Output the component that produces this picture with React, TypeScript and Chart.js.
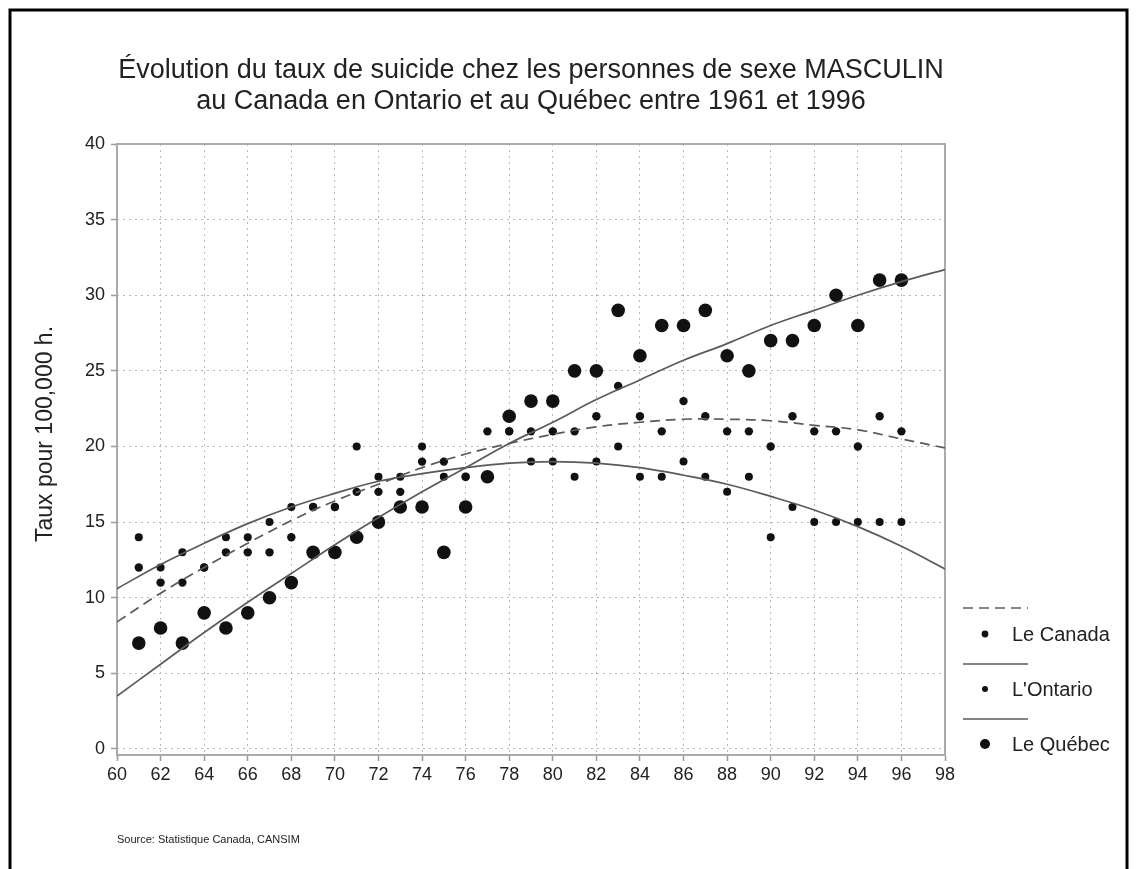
import React, { useEffect, useRef } from "react";
import { Chart, registerables } from "chart.js";

Chart.register(...registerables);

// ---- Data ----
const years = [61, 62, 63, 64, 65, 66, 67, 68, 69, 70, 71, 72, 73, 74, 75, 76, 77, 78, 79, 80, 81, 82, 83, 84, 85, 86, 87, 88, 89, 90, 91, 92, 93, 94, 95, 96];
const canada = [12, 11, 11, 12, 13, 13, 13, 14, 16, 16, 17, 17, 17, 19, 19, 18, 21, 21, 21, 21, 21, 22, 24, 22, 21, 23, 22, 21, 21, 20, 22, 21, 21, 20, 22, 21];
const ontario = [14, 12, 13, 12, 14, 14, 15, 16, 16, 16, 20, 18, 18, 20, 18, 18, 18, 21, 19, 19, 18, 19, 20, 18, 18, 19, 18, 17, 18, 14, 16, 15, 15, 15, 15, 15];
const quebec = [7, 8, 7, 9, 8, 9, 10, 11, 13, 13, 14, 15, 16, 16, 13, 16, 18, 22, 23, 23, 25, 25, 29, 26, 28, 28, 29, 26, 25, 27, 27, 28, 30, 28, 31, 31];

// Trend curves, every two years
const trendYears = [60, 62, 64, 66, 68, 70, 72, 74, 76, 78, 80, 82, 84, 86, 88, 90, 92, 94, 96, 98];
const canadaTrend = [8.4, 10.3, 12.0, 13.6, 15.1, 16.4, 17.5, 18.6, 19.5, 20.2, 20.8, 21.3, 21.6, 21.8, 21.8, 21.7, 21.4, 21.1, 20.5, 19.9];
const ontarioTrend = [10.6, 12.2, 13.6, 14.9, 16.0, 16.9, 17.7, 18.2, 18.6, 18.9, 19.0, 18.9, 18.6, 18.1, 17.5, 16.7, 15.8, 14.7, 13.4, 11.9];
const quebecTrend = [3.5, 5.6, 7.7, 9.7, 11.6, 13.5, 15.3, 17.0, 18.6, 20.2, 21.6, 23.1, 24.4, 25.7, 26.8, 28.0, 29.0, 30.0, 30.9, 31.7];

const xTickValues = [60, 62, 64, 66, 68, 70, 72, 74, 76, 78, 80, 82, 84, 86, 88, 90, 92, 94, 96, 98];
const yTickValues = [0, 5, 10, 15, 20, 25, 30, 35, 40];

const titleLines = [
  "Évolution du taux de suicide chez les personnes de sexe MASCULIN",
  "au Canada en Ontario et au Québec entre 1961 et 1996",
];
const yAxisTitle = "Taux pour 100,000 h.";
const sourceText = "Source: Statistique Canada, CANSIM";
const legendLabels = ["Le Canada", "L'Ontario", "Le Québec"];

const FONT = "'Liberation Sans', Arial, Helvetica, sans-serif";
const TEXT = "#222";
const LINE = "#5a5a5a";
const DOT = "#111";

const toXY = (xs: number[], ys: number[]) => xs.map((x, i) => ({ x, y: ys[i] }));

const decorPlugin = {
  id: "decor",
  beforeDraw(chart: any) {
    const ctx = chart.ctx as CanvasRenderingContext2D;
    ctx.save();
    ctx.fillStyle = "#fff";
    ctx.fillRect(0, 0, chart.width, chart.height);
    // outer frame (open at the bottom)
    ctx.strokeStyle = "#000";
    ctx.lineWidth = 3;
    ctx.beginPath();
    ctx.moveTo(10, chart.height + 5);
    ctx.lineTo(10, 10);
    ctx.lineTo(1127, 10);
    ctx.lineTo(1127, chart.height + 5);
    ctx.stroke();
    ctx.restore();
  },
  beforeDatasetsDraw(chart: any) {
    const ctx = chart.ctx as CanvasRenderingContext2D;
    const a = chart.chartArea;
    ctx.save();
    ctx.strokeStyle = "#aaa";
    ctx.lineWidth = 2;
    ctx.strokeRect(a.left, a.top, a.right - a.left, a.bottom - a.top);
    ctx.restore();
  },
  afterDraw(chart: any) {
    const ctx = chart.ctx as CanvasRenderingContext2D;
    const a = chart.chartArea;
    ctx.save();
    ctx.fillStyle = TEXT;
    // title
    ctx.font = `27px ${FONT}`;
    ctx.textAlign = "center";
    ctx.textBaseline = "middle";
    const cx = (a.left + a.right) / 2;
    ctx.fillText(titleLines[0], cx, 71);
    ctx.fillText(titleLines[1], cx, 102);
    // y axis title
    ctx.save();
    ctx.translate(46, 434);
    ctx.rotate(-Math.PI / 2);
    ctx.font = `23px ${FONT}`;
    ctx.fillText(yAxisTitle, 0, 0);
    ctx.restore();
    // source
    ctx.textAlign = "left";
    ctx.font = `11px ${FONT}`;
    ctx.fillText(sourceText, a.left, 840);
    // legend
    const lx0 = 963, lx1 = 1028, dotX = 985, textX = 1012;
    const rows = [
      { lineY: 608, y: 634, dash: [10, 6], r: 3.4 },
      { lineY: 664, y: 689, dash: [], r: 3 },
      { lineY: 719, y: 744, dash: [], r: 5 },
    ];
    rows.forEach((row, i) => {
      ctx.strokeStyle = LINE;
      ctx.lineWidth = 1.6;
      ctx.setLineDash(row.dash);
      ctx.beginPath();
      ctx.moveTo(lx0, row.lineY);
      ctx.lineTo(lx1, row.lineY);
      ctx.stroke();
      ctx.setLineDash([]);
      ctx.fillStyle = DOT;
      ctx.beginPath();
      ctx.arc(dotX, row.y, row.r, 0, Math.PI * 2);
      ctx.fill();
      ctx.fillStyle = TEXT;
      ctx.font = `20px ${FONT}`;
      ctx.textBaseline = "middle";
      ctx.fillText(legendLabels[i], textX, row.y + 1);
    });
    ctx.restore();
  },
};

export default function App() {
  const ref = useRef<HTMLCanvasElement | null>(null);

  useEffect(() => {
    if (!ref.current) return;
    const chart = new Chart(ref.current, {
      type: "scatter",
      data: {
        datasets: [
          {
            label: "Le Canada (tendance)",
            type: "line",
            data: toXY(trendYears, canadaTrend),
            borderColor: LINE,
            borderWidth: 1.7,
            borderDash: [10, 6],
            pointRadius: 0,
            tension: 0.4,
            fill: false,
          },
          {
            label: "L'Ontario (tendance)",
            type: "line",
            data: toXY(trendYears, ontarioTrend),
            borderColor: LINE,
            borderWidth: 1.7,
            pointRadius: 0,
            tension: 0.4,
            fill: false,
          },
          {
            label: "Le Québec (tendance)",
            type: "line",
            data: toXY(trendYears, quebecTrend),
            borderColor: LINE,
            borderWidth: 1.7,
            pointRadius: 0,
            tension: 0.4,
            fill: false,
          },
          {
            label: "Le Canada",
            data: toXY(years, canada),
            pointRadius: 4.2,
            pointBackgroundColor: DOT,
            pointBorderWidth: 0,
          },
          {
            label: "L'Ontario",
            data: toXY(years, ontario),
            pointRadius: 4,
            pointBackgroundColor: DOT,
            pointBorderWidth: 0,
          },
          {
            label: "Le Québec",
            data: toXY(years, quebec),
            pointRadius: 6.8,
            pointBackgroundColor: DOT,
            pointBorderWidth: 0,
          },
        ],
      },
      options: {
        animation: false,
        responsive: false,
        maintainAspectRatio: false,
        events: [],
        layout: { padding: { left: 0, top: 144, right: 191, bottom: 74 } },
        plugins: {
          legend: { display: false },
          title: { display: false },
          tooltip: { enabled: false },
        },
        scales: {
          x: {
            type: "linear",
            min: 60,
            max: 98,
            afterBuildTicks: (s: any) => {
              s.ticks = xTickValues.map((v) => ({ value: v }));
            },
            afterFit: (s: any) => {
              s.height = 40;
            },
            ticks: {
              color: TEXT,
              font: { family: FONT, size: 18 },
              padding: 3,
              maxRotation: 0,
              autoSkip: false,
            },
            grid: {
              color: "#b8b8b8",
              lineWidth: 1,
              tickLength: 6,
              tickColor: "#999",
              tickWidth: 1.5,
            },
            border: { display: false, dash: [2, 4] },
          },
          y: {
            type: "linear",
            min: -0.4,
            max: 40,
            afterBuildTicks: (s: any) => {
              s.ticks = yTickValues.map((v) => ({ value: v }));
            },
            afterFit: (s: any) => {
              s.width = 117;
            },
            ticks: {
              color: TEXT,
              font: { family: FONT, size: 18 },
              padding: 6,
              autoSkip: false,
            },
            grid: {
              color: "#b8b8b8",
              lineWidth: 1,
              tickLength: 6,
              tickColor: "#999",
              tickWidth: 1.5,
            },
            border: { display: false, dash: [2, 4] },
          },
        },
      },
      plugins: [decorPlugin],
    });
    return () => chart.destroy();
  }, []);

  return (
    <div style={{ position: "absolute", left: 0, top: 0, width: 1136, height: 869, background: "#fff" }}>
      <canvas ref={ref} width={1136} height={869} style={{ display: "block", width: 1136, height: 869 }} />
    </div>
  );
}
